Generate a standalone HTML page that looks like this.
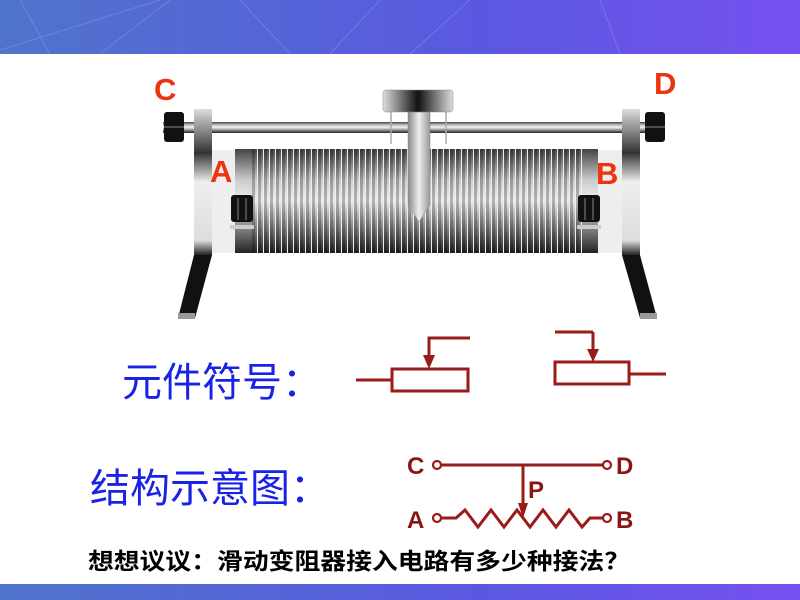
<!DOCTYPE html>
<html><head><meta charset="utf-8"><style>
html,body{margin:0;padding:0;background:#fff;width:800px;height:600px;overflow:hidden}
svg{display:block}
</style></head><body>
<svg width="800" height="600" viewBox="0 0 800 600" xmlns="http://www.w3.org/2000/svg">
<defs>
<linearGradient id="hdr" x1="0" y1="0" x2="1" y2="0"><stop offset="0" stop-color="#5074cc"/><stop offset="0.6" stop-color="#5a58e0"/><stop offset="1" stop-color="#7650f0"/></linearGradient>
<linearGradient id="cyl" x1="0" y1="0" x2="0" y2="1"><stop offset="0" stop-color="#444"/><stop offset="0.3" stop-color="#ccc"/><stop offset="0.5" stop-color="#eee"/><stop offset="0.75" stop-color="#888"/><stop offset="1" stop-color="#222"/></linearGradient>
<linearGradient id="platev" x1="0" y1="0" x2="0" y2="1"><stop offset="0" stop-color="#ddd"/><stop offset="0.3" stop-color="#333"/><stop offset="0.5" stop-color="#eee"/><stop offset="0.9" stop-color="#ddd"/><stop offset="1" stop-color="#222"/></linearGradient>
<linearGradient id="head" x1="0" y1="0" x2="1" y2="0"><stop offset="0" stop-color="#ddd"/><stop offset="0.5" stop-color="#111"/><stop offset="1" stop-color="#ddd"/></linearGradient>
<linearGradient id="blade" x1="0" y1="0" x2="1" y2="0"><stop offset="0" stop-color="#888"/><stop offset="0.5" stop-color="#eee"/><stop offset="1" stop-color="#999"/></linearGradient>
<pattern id="coil" x="252" y="0" width="6" height="10" patternUnits="userSpaceOnUse"><rect x="0" width="3" height="10" fill="#000" fill-opacity="0.25"/><rect x="5" width="1" height="10" fill="#eee"/></pattern>
</defs>
<rect x="0" y="0" width="800" height="54" fill="url(#hdr)"/>
<rect x="0" y="584" width="800" height="16" fill="url(#hdr)"/>
<g stroke="#9ab0f0" stroke-opacity="0.35" stroke-width="1">
<line x1="20" y1="0" x2="50" y2="54"/><line x1="100" y1="54" x2="170" y2="0"/><line x1="240" y1="0" x2="290" y2="54"/><line x1="0" y1="50" x2="160" y2="0"/><line x1="330" y1="54" x2="380" y2="0"/><line x1="410" y1="54" x2="470" y2="0"/><line x1="600" y1="0" x2="620" y2="54"/></g>
<rect x="163" y="122" width="502" height="11" fill="url(#cyl)"/>
<rect x="212" y="150" width="24" height="103" fill="#eee"/>
<rect x="598" y="150" width="24" height="103" fill="#eee"/>
<rect x="235" y="149" width="363" height="104" fill="url(#cyl)"/>
<rect x="252" y="149" width="330" height="104" fill="url(#coil)"/>
<polygon points="194,255 212,255 195,318 178,318" fill="#111"/>
<polygon points="622,255 640,255 657,318 640,318" fill="#111"/>
<rect x="178" y="313" width="17" height="6" fill="#999"/><rect x="640" y="313" width="17" height="6" fill="#999"/>
<rect x="194" y="109" width="18" height="146" fill="url(#platev)"/>
<rect x="622" y="109" width="18" height="146" fill="url(#platev)"/>
<rect x="164" y="112" width="20" height="30" rx="3" fill="#111"/><line x1="164" y1="127" x2="184" y2="127" stroke="#888"/>
<rect x="645" y="112" width="20" height="30" rx="3" fill="#111"/><line x1="645" y1="127" x2="665" y2="127" stroke="#888"/>
<rect x="231" y="195" width="22" height="27" rx="3" fill="#111"/><line x1="238" y1="198" x2="238" y2="220" stroke="#888"/><line x1="246" y1="198" x2="246" y2="220" stroke="#888"/>
<rect x="230" y="225" width="24" height="4" fill="#ccc"/>
<rect x="578" y="195" width="22" height="27" rx="3" fill="#111"/><line x1="585" y1="198" x2="585" y2="220" stroke="#888"/><line x1="593" y1="198" x2="593" y2="220" stroke="#888"/>
<rect x="577" y="225" width="24" height="4" fill="#ccc"/>
<line x1="391" y1="112" x2="391" y2="144" stroke="#aaa" stroke-width="1.5"/><line x1="446" y1="112" x2="446" y2="144" stroke="#aaa" stroke-width="1.5"/>
<polygon points="408,112 430,112 430,205 419,222 408,205" fill="url(#blade)" stroke="#888" stroke-width="0.5"/>
<rect x="383" y="90" width="70" height="22" rx="3" fill="url(#head)" stroke="#888" stroke-width="0.5"/>
<g font-family="Liberation Sans, sans-serif" font-weight="bold" font-size="31" fill="#ee3311">
<text x="154" y="100">C</text><text x="654" y="94">D</text><text x="210" y="182">A</text><text x="596" y="184">B</text></g>
<text x="122" y="396" font-family="Liberation Sans, Noto Sans CJK SC, sans-serif" font-size="40" fill="#1a22e6">元件符号：</text>
<text x="90" y="502" font-family="Liberation Sans, Noto Sans CJK SC, sans-serif" font-size="40" fill="#1a22e6">结构示意图：</text>
<text x="88" y="569" font-family="Liberation Sans, Noto Sans CJK SC, sans-serif" font-size="23" font-weight="bold" fill="#000" textLength="542" lengthAdjust="spacingAndGlyphs">想想议议：滑动变阻器接入电路有多少种接法？</text>
<g stroke="#9b1a1a" stroke-width="3" fill="none">
<line x1="356" y1="380" x2="392" y2="380"/><rect x="392" y="369" width="76" height="22"/>
<polyline points="470,338 429,338 429,356"/>
<line x1="555" y1="332" x2="593" y2="332"/><line x1="593" y1="332" x2="593" y2="350"/>
<rect x="555" y="362" width="74" height="22"/><line x1="629" y1="374" x2="666" y2="374"/>
<line x1="441" y1="465" x2="603" y2="465"/><line x1="523" y1="465" x2="523" y2="505"/>
<circle cx="437" cy="465" r="4" stroke-width="2.2"/><circle cx="607" cy="465" r="4" stroke-width="2.2"/>
<circle cx="437" cy="518" r="4" stroke-width="2.2"/><circle cx="607" cy="518" r="4" stroke-width="2.2"/>
<polyline points="441,518 456,518 465,510 478,527 491,510 504,527 517,510 530,527 543,510 556,527 569,510 582,527 590,518 603,518"/>
</g>
<g fill="#9b1a1a">
<polygon points="423,355 435,355 429,369"/><polygon points="587,349 599,349 593,362"/>
<polygon points="518,503 528,503 523,518"/>
</g>
<g font-family="Liberation Sans, sans-serif" font-weight="bold" font-size="24" fill="#8a1515">
<text x="407" y="474">C</text><text x="616" y="474">D</text><text x="528" y="498">P</text><text x="407" y="528">A</text><text x="616" y="528">B</text></g>
</svg>
</body></html>
